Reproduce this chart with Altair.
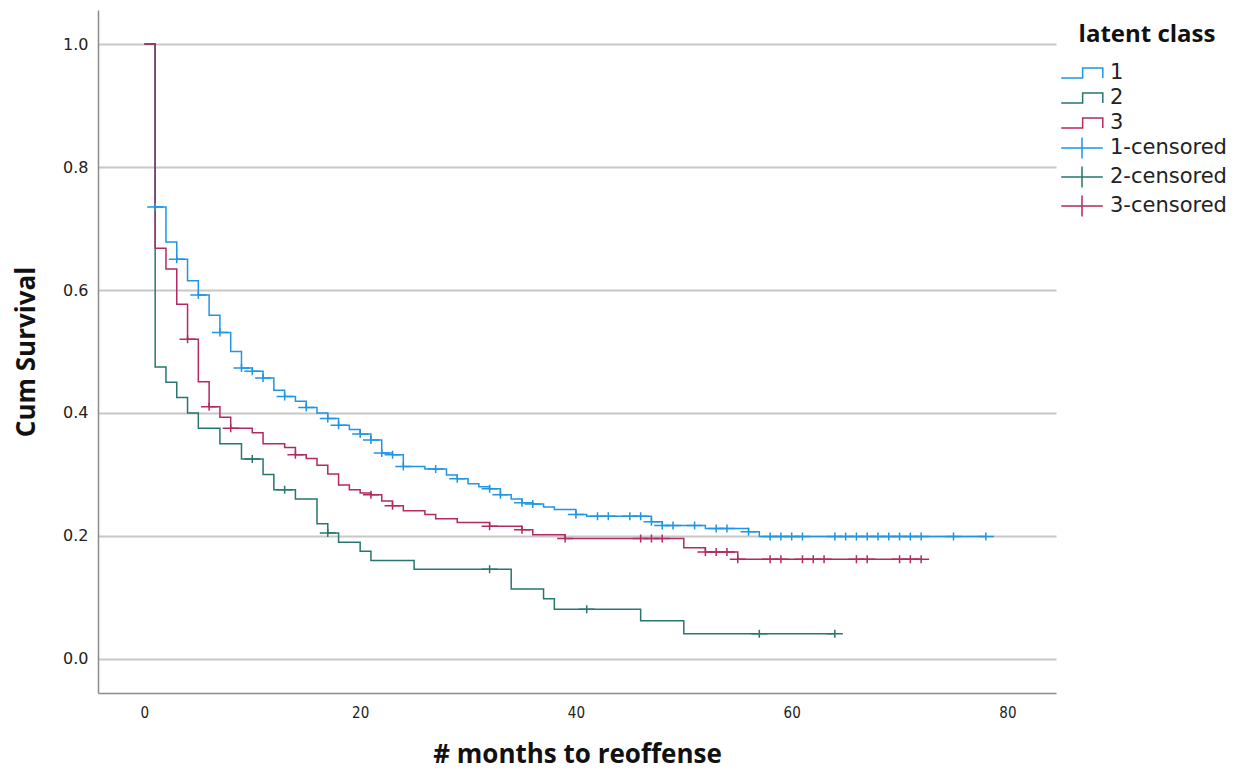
import altair as alt
import pandas as pd

# ---- data (Kaplan-Meier steps) ----
class_keys = ["1", "2", "3"]

times1 = [0, 1, 2, 3, 4, 5, 6, 7, 8, 9, 10, 11, 12, 13, 14, 15, 16, 17, 18, 19, 20, 21, 22, 23, 24,
          26, 28, 29, 30, 31, 32, 33, 34, 35, 36, 37, 38, 40, 41, 47, 48, 52, 56, 57, 78]
surv1 = [1.0, 0.735, 0.678, 0.650, 0.615, 0.592, 0.559, 0.531, 0.500, 0.473, 0.468, 0.457, 0.437,
         0.427, 0.419, 0.409, 0.400, 0.391, 0.380, 0.373, 0.366, 0.356, 0.335, 0.332, 0.313,
         0.309, 0.299, 0.293, 0.285, 0.280, 0.277, 0.267, 0.260, 0.254, 0.252, 0.247, 0.243,
         0.235, 0.232, 0.223, 0.217, 0.212, 0.207, 0.199, 0.199]
cens1 = [1, 3, 5, 7, 9, 10, 11, 13, 15, 17, 18, 20, 21, 22, 23, 24, 27, 29, 32, 33, 35, 36, 40, 42,
         43, 45, 46, 47, 48, 49, 51, 53, 54, 56, 58, 59, 60, 61, 64, 65, 66, 67, 68, 69, 70, 71,
         72, 75, 78]

times2 = [0, 1, 2, 3, 4, 5, 7, 9, 11, 12, 14, 16, 17, 18, 20, 21, 25, 34, 37, 38, 46, 50, 64]
surv2 = [1.0, 0.475, 0.450, 0.425, 0.400, 0.375, 0.350, 0.325, 0.300, 0.275, 0.260, 0.220, 0.205,
         0.190, 0.175, 0.160, 0.146, 0.114, 0.098, 0.081, 0.062, 0.041, 0.041]
cens2 = [10, 13, 17, 32, 41, 57, 64]

times3 = [0, 1, 2, 3, 4, 5, 6, 7, 8, 10, 11, 13, 14, 15, 16, 17, 18, 19, 20, 21, 22, 23, 24, 26,
          27, 29, 32, 35, 36, 39, 50, 52, 55, 72]
surv3 = [1.0, 0.668, 0.634, 0.577, 0.520, 0.451, 0.410, 0.393, 0.375, 0.368, 0.350, 0.344, 0.332,
         0.326, 0.315, 0.301, 0.283, 0.275, 0.270, 0.267, 0.257, 0.249, 0.241, 0.235, 0.228,
         0.222, 0.216, 0.210, 0.202, 0.196, 0.181, 0.174, 0.162, 0.162]
cens3 = [4, 6, 8, 14, 21, 23, 32, 35, 39, 46, 47, 48, 52, 53, 54, 55, 58, 59, 61, 62, 63, 66, 67,
         70, 71, 72]

legend_keys = ["1", "2", "3", "1-censored", "2-censored", "3-censored"]
x_ticks = [0, 20, 40, 60, 80]
y_ticks = [0.0, 0.2, 0.4, 0.6, 0.8, 1.0]

# ---- styling ----
BLUE, TEAL, MAGENTA = "#1f95e6", "#28766f", "#b32a60"
line_colors = [BLUE, TEAL, MAGENTA]
color_range = [BLUE, TEAL, MAGENTA, BLUE, TEAL, MAGENTA]
STEP = "M-1.6,0.38H0.05V-0.38H1.6V0.38"
PLUS = "M-1.6,0H1.6M0,-0.8V0.8"
shape_range = [STEP, STEP, STEP, PLUS, PLUS, PLUS]

series = {"1": (times1, surv1, cens1), "2": (times2, surv2, cens2), "3": (times3, surv3, cens3)}

line_rows, cens_rows = [], []
for k in class_keys:
    ts, ss, cs = series[k]
    for t, s in zip(ts, ss):
        line_rows.append({"t": t, "s": s, "key": k})
    for c in cs:
        val = [s for t, s in zip(ts, ss) if t <= c][-1]
        cens_rows.append({"t": c, "s": val, "key": k + "-censored"})

lines_df = pd.DataFrame(line_rows)
cens_df = pd.DataFrame(cens_rows)

x_scale = alt.Scale(domain=[-4.3, 84.5], nice=False, zero=False)
y_scale = alt.Scale(domain=[-0.0553, 1.0553], nice=False, zero=False)
stroke_scale = alt.Scale(domain=class_keys, range=line_colors)
color_scale = alt.Scale(domain=legend_keys, range=color_range)

x_enc = alt.X("t:Q", scale=x_scale,
              axis=alt.Axis(title="# months to reoffense", values=x_ticks, grid=False, ticks=False,
                            labelPadding=12, titlePadding=21,
                            labelFont="DejaVu Sans Condensed, Liberation Sans Narrow, Liberation Sans",
                            labelFontSize=15, labelColor="#222222",
                            titleFont="Open Sans", titleFontSize=26, titleFontWeight="bold",
                            titleColor="#111111",
                            domainColor="#8c8c8c", domainWidth=1.5))
y_enc = alt.Y("s:Q", scale=y_scale,
              axis=alt.Axis(title="Cum Survival", values=y_ticks, format=".1f", grid=True,
                            gridColor="#c8c8c8", gridWidth=2, ticks=False,
                            labelPadding=10, titlePadding=23,
                            labelFont="DejaVu Sans", labelFontSize=16, labelColor="#222222",
                            titleFont="Open Sans", titleFontSize=26, titleFontWeight="bold",
                            titleColor="#111111",
                            domainColor="#8c8c8c", domainWidth=1.5))

lines = alt.Chart(lines_df).mark_line(interpolate="step-after", strokeWidth=1.5).encode(
    x=x_enc, y=y_enc,
    stroke=alt.Stroke("key:N", scale=stroke_scale, legend=None),
)

cens = alt.Chart(cens_df).mark_point(filled=False, strokeWidth=1.5, opacity=1, size=100).encode(
    x=alt.X("t:Q", scale=x_scale),
    y=alt.Y("s:Q", scale=y_scale),
    color=alt.Color("key:N", scale=color_scale,
                    legend=alt.Legend(title="latent class", orient="none", legendX=970, legendY=13,
                                      padding=0,
                                      titleFont="Open Sans", titleFontSize=24,
                                      titleFontWeight="bold", titleColor="#111111",
                                      titleAnchor="middle", titleAlign="center", titlePadding=12,
                                      labelFont="DejaVu Sans", labelFontSize=21,
                                      labelColor="#222222", labelOffset=14,
                                      symbolSize=676, symbolStrokeWidth=1.5, rowPadding=1)),
    shape=alt.Shape("key:N", scale=alt.Scale(domain=legend_keys, range=shape_range)),
)

chart = alt.layer(lines, cens).properties(
    width=958, height=683,
    padding={"left": 5, "top": 2, "right": 0, "bottom": 0},
).configure_view(stroke=None)

chart.save("out.html", embed_options={"renderer": "svg", "actions": False})
